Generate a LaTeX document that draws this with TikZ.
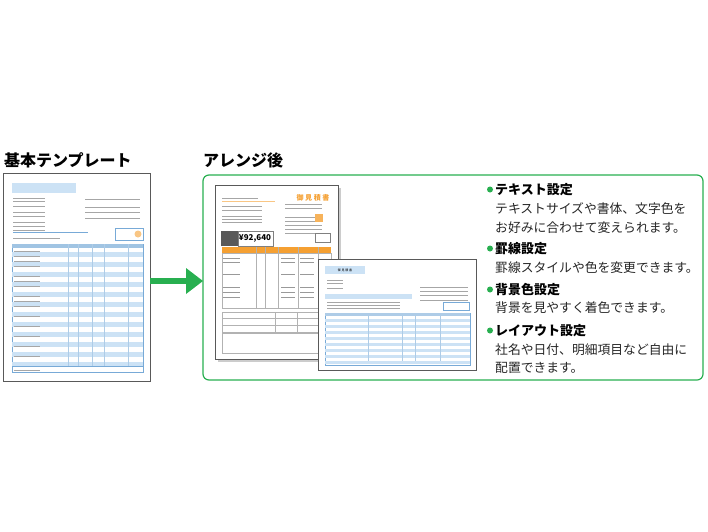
\documentclass[tikz,border=0pt]{standalone}
\usepackage{fontspec}
\setmainfont{Noto Sans CJK JP}
\begin{document}
\begin{tikzpicture}[x=1pt,y=-1pt,
  tl/.style={gray!70,line width=0.6pt},
  head/.style={font=\bfseries\fontsize{16}{16}\selectfont,anchor=base west,inner sep=0},
  sub/.style={font=\bfseries\fontsize{13}{14}\selectfont,anchor=base west,inner sep=0},
  body/.style={font=\fontsize{12.8}{14}\selectfont,text=black!85,anchor=base west,inner sep=0},
  doc/.style={draw=gray!70!black,fill=white,line width=0.8pt}]
\useasboundingbox (0,0) rectangle (708,531);
\definecolor{lb}{RGB}{204,226,245}
\definecolor{bl}{RGB}{120,170,215}
\definecolor{og}{RGB}{245,160,50}
\definecolor{gg}{RGB}{40,175,80}
% titles
\node[head] (t1) at (4,166) {基本テンプレート};
\node[head] (t2) at (203,166) {アレンジ後};
% left doc
\node[doc,minimum width=147,minimum height=208,anchor=north west] (ld) at (3,173) {};
\fill[lb] (12,183) rectangle (76,193);
\foreach \y in {198,201,206,212,216,222,226,230}{\draw[tl] (13,\y)--(45,\y);}
\foreach \y in {199,207,212,218}{\draw[tl] (85,\y)--(140,\y);}
\draw[bl] (13,232)--(88,232);
\draw[tl] (13,238)--(60,238);
\draw[bl] (115,228) rectangle (143,240);
\fill[og!60] (138,234) circle (3.5);
\draw[bl] (12,244) rectangle (143,372);
\fill[bl!70] (12.4,244.4) rectangle (142.6,248);
\foreach \y in {252,262,272,282,292,302,312,322,332,342,352,362}{\fill[lb] (12.4,\y) rectangle (142.6,\y+5);}
\foreach \x in {68,78,92,104,128}{\draw[bl!60] (\x,244)--(\x,366);}
\draw[bl] (12,366)--(143,366);
\foreach \y in {251,256,261,266,276,281,286,296,301,306,316,326,336,346,356,370}{\draw[tl,line width=0.4pt] (14,\y)--(40,\y);}
% arrow
\coordinate (a0) at (150,281);
\coordinate (a1) at (203,281);
\draw[gg,line width=6pt] (a0)--(188,281);
\fill[gg] (186,268)--(a1)--(186,294)--cycle;
% green frame
\draw[gg,line width=1.2pt,rounded corners=6] (203,175) rectangle (703,380);
% orange doc
\fill[gray!40] (218,188) rectangle (341,362);
\node[doc,minimum width=123,minimum height=174,anchor=north west] (od) at (215,185) {};
\node[font=\bfseries\fontsize{7}{7}\selectfont,text=og,inner sep=0] (ot) at (313,198) {御 見 積 書};
\draw[tl] (222,198)--(258,198); \draw[og!60] (222,201)--(275,201);
\foreach \y in {206,210,216,219,222}{\draw[tl,line width=0.4pt] (222,\y)--(262,\y);}
\foreach \y in {204,208,217,221,225,229,233}{\draw[tl,line width=0.4pt] (285,\y)--(322,\y);}
\fill[og!80] (315,214) rectangle (323,222);
\fill[gray!70!black] (221,231) rectangle (238,246);
\draw[gray] (238,231) rectangle (273,246);
\node[font=\bfseries\fontsize{8}{8}\selectfont,inner sep=0] (yen) at (255,238.5) {¥92,640};
\draw[gray] (315,233) rectangle (330,242);
\fill[og] (222,247) rectangle (331,253);
\draw[gray!60] (222,253) rectangle (331,308);
\foreach \x in {256,265,278,298,318}{\draw[gray!60] (\x,247)--(\x,308);}
\foreach \y in {258,262,274,287,292,297}{\draw[gray!80,line width=0.8pt] (223,\y)--(240,\y); \draw[gray!80,line width=0.8pt] (281,\y)--(295,\y);\draw[gray!80,line width=0.8pt] (300,\y)--(314,\y);}
\draw[gray!60] (222,312) rectangle (331,332);
\draw[gray!60] (222,318)--(331,318) (222,325)--(331,325) (275,312)--(275,332) (297,312)--(297,332);
\draw[gray!60] (222,333) rectangle (331,353);
% blue doc
\node[doc,minimum width=158,minimum height=111,anchor=north west] (bd) at (318,259) {};
\fill[lb] (325,266) rectangle (365,274);
\node[font=\fontsize{3}{3}\selectfont,inner sep=0] (bt) at (345,270) {御 見 積 書};
\foreach \y in {280,283,288}{\draw[tl,line width=0.4pt] (327,\y)--(343,\y);}
\foreach \y in {287,291,295,300}{\draw[tl,line width=0.4pt] (420,\y)--(468,\y);}
\fill[lb] (325,294) rectangle (412,299);
\foreach \y in {302,305,308}{\draw[tl,line width=0.4pt] (327,\y)--(400,\y);}
\draw[bl] (443,302) rectangle (469,310);
\draw[bl] (325,313) rectangle (470,365);
\fill[bl!60] (325.4,313.4) rectangle (469.6,316);
\foreach \y in {319,325,331,337,343,349,355,361}{\fill[lb] (325.4,\y) rectangle (469.6,\y+3);}
\foreach \x in {368,402,415,440}{\draw[bl!60] (\x,313)--(\x,361);}
% right texts
\def\bul#1#2{\fill[gg] (490,#1-4.5) circle (3); \node[sub] at (495,#1) {#2};}
\bul{194}{テキスト設定}
\node[body] (l1) at (495,213) {テキストサイズや書体、文字色を};
\node[body] (l2) at (495,232) {お好みに合わせて変えられます。};
\bul{253}{罫線設定}
\node[body] (l3) at (495,272) {罫線スタイルや色を変更できます。};
\bul{294}{背景色設定}
\node[body] (l4) at (495,312) {背景を見やすく着色できます。};
\bul{335}{レイアウト設定}
\node[body] (l5) at (495,354) {社名や日付、明細項目など自由に};
\node[body] (l6) at (495,372) {配置できます。};
\end{tikzpicture}
\end{document}
